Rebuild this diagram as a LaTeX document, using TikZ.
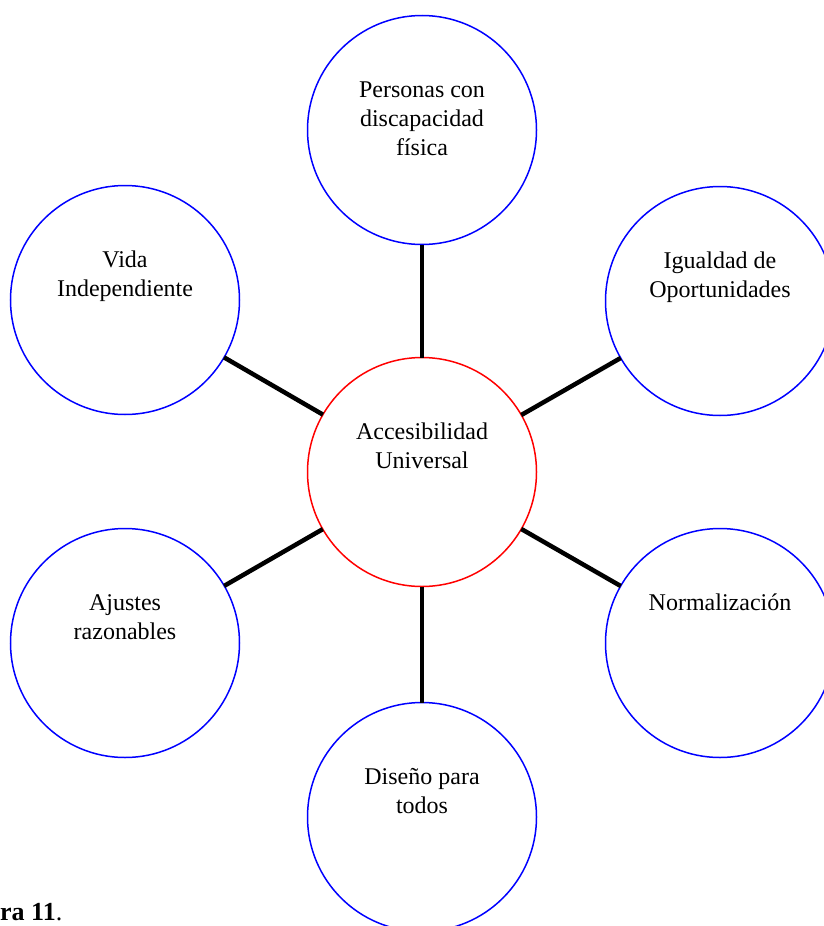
\documentclass[tikz,border=0pt]{standalone}
\usepackage{fontspec}
\setmainfont{Liberation Serif}
\begin{document}
\begin{tikzpicture}[x=1pt,y=-1pt,
  bubble/.style={circle,draw=blue,line width=1.5pt,minimum size=229pt,inner sep=0pt,outer sep=0pt},
  hub/.style={bubble,draw=red},
  lbl/.style={anchor=north,align=center,inner sep=0pt,font=\fontsize{24}{29}\selectfont},
  spoke/.style={line width=4.5pt}]
\useasboundingbox (0,0) rectangle (823,926);
\draw (422,472) node[hub] (acc) {};
\draw (422,130) node[bubble] (pers) {};
\draw (720,301) node[bubble] (igual) {};
\draw (720,643) node[bubble] (norm) {};
\draw (422,817) node[bubble] (disen) {};
\draw (125,643) node[bubble] (ajus) {};
\draw (125,300) node[bubble] (vida) {};
\draw ([yshift=53pt]acc.center) node[lbl] (acct) {\strut Accesibilidad\\Universal};
\draw ([yshift=53pt]pers.center) node[lbl] (perst) {\strut Personas con\\discapacidad\\física};
\draw ([yshift=53pt]igual.center) node[lbl] (igualt) {\strut Igualdad de\\Oportunidades};
\draw ([yshift=53pt]norm.center) node[lbl] (normt) {\strut Normalización};
\draw ([yshift=53pt]disen.center) node[lbl] (disent) {\strut Diseño para\\todos};
\draw ([yshift=53pt]ajus.center) node[lbl] (ajust) {\strut Ajustes\\razonables};
\draw ([yshift=53pt]vida.center) node[lbl] (vidat) {\strut Vida\\Independiente};
\draw[spoke] (acc) -- (pers);
\draw[spoke] (acc) -- (igual);
\draw[spoke] (acc) -- (norm);
\draw[spoke] (acc) -- (disen);
\draw[spoke] (acc) -- (ajus);
\draw[spoke] (acc) -- (vida);
\draw (0,920) node[anchor=base west,inner sep=0pt,font=\fontsize{26}{31}\selectfont] (fig) {\textbf{ra 11}.};
\end{tikzpicture}
\end{document}
